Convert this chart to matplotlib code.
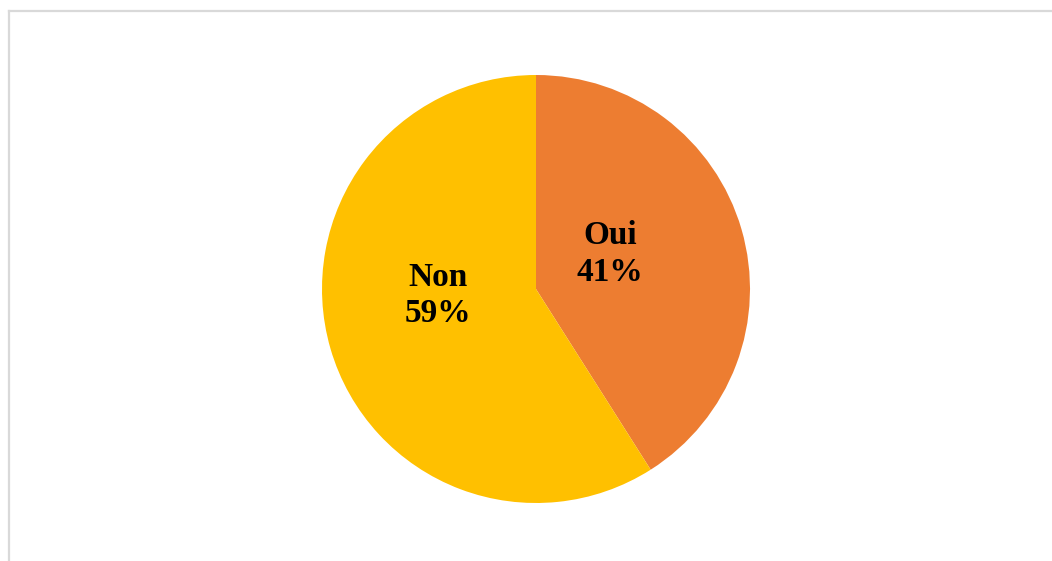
import matplotlib
matplotlib.use("Agg")
import matplotlib.pyplot as plt
from matplotlib.lines import Line2D

categories = ["Oui", "Non"]
values = [41, 59]
colors = ["#ED7D31", "#FFC000"]

W, H, DPI = 1052, 561, 100
fig = plt.figure(figsize=(W / DPI, H / DPI), dpi=DPI)

# frame lines (left and top only)
fig.add_artist(Line2D([8.5 / W, 8.5 / W], [0, 1 - 10.5 / H], transform=fig.transFigure,
                      color="#D9D9D9", lw=1.6))
fig.add_artist(Line2D([8.5 / W, 1], [1 - 10.5 / H, 1 - 10.5 / H], transform=fig.transFigure,
                      color="#D9D9D9", lw=1.6))

cx, cy, r = 536, 289, 214
ax = fig.add_axes([(cx - r) / W, (H - cy - r) / H, 2 * r / W, 2 * r / H])
ax.pie(values, colors=colors, startangle=90, counterclock=False, radius=1,
       wedgeprops=dict(linewidth=0))
ax.set_xlim(-1, 1)
ax.set_ylim(-1, 1)
ax.set_aspect("equal")
ax.axis("off")

label_pos = [(0.346, 0.164), (-0.458, -0.03)]
for cat, v, (x, y) in zip(categories, values, label_pos):
    ax.text(x, y, f"{cat}\n{v}%", ha="center", va="center", fontsize=24,
            fontweight="bold", family="Liberation Serif", linespacing=1.22, color="black")

fig.savefig("out.png", dpi=DPI)
